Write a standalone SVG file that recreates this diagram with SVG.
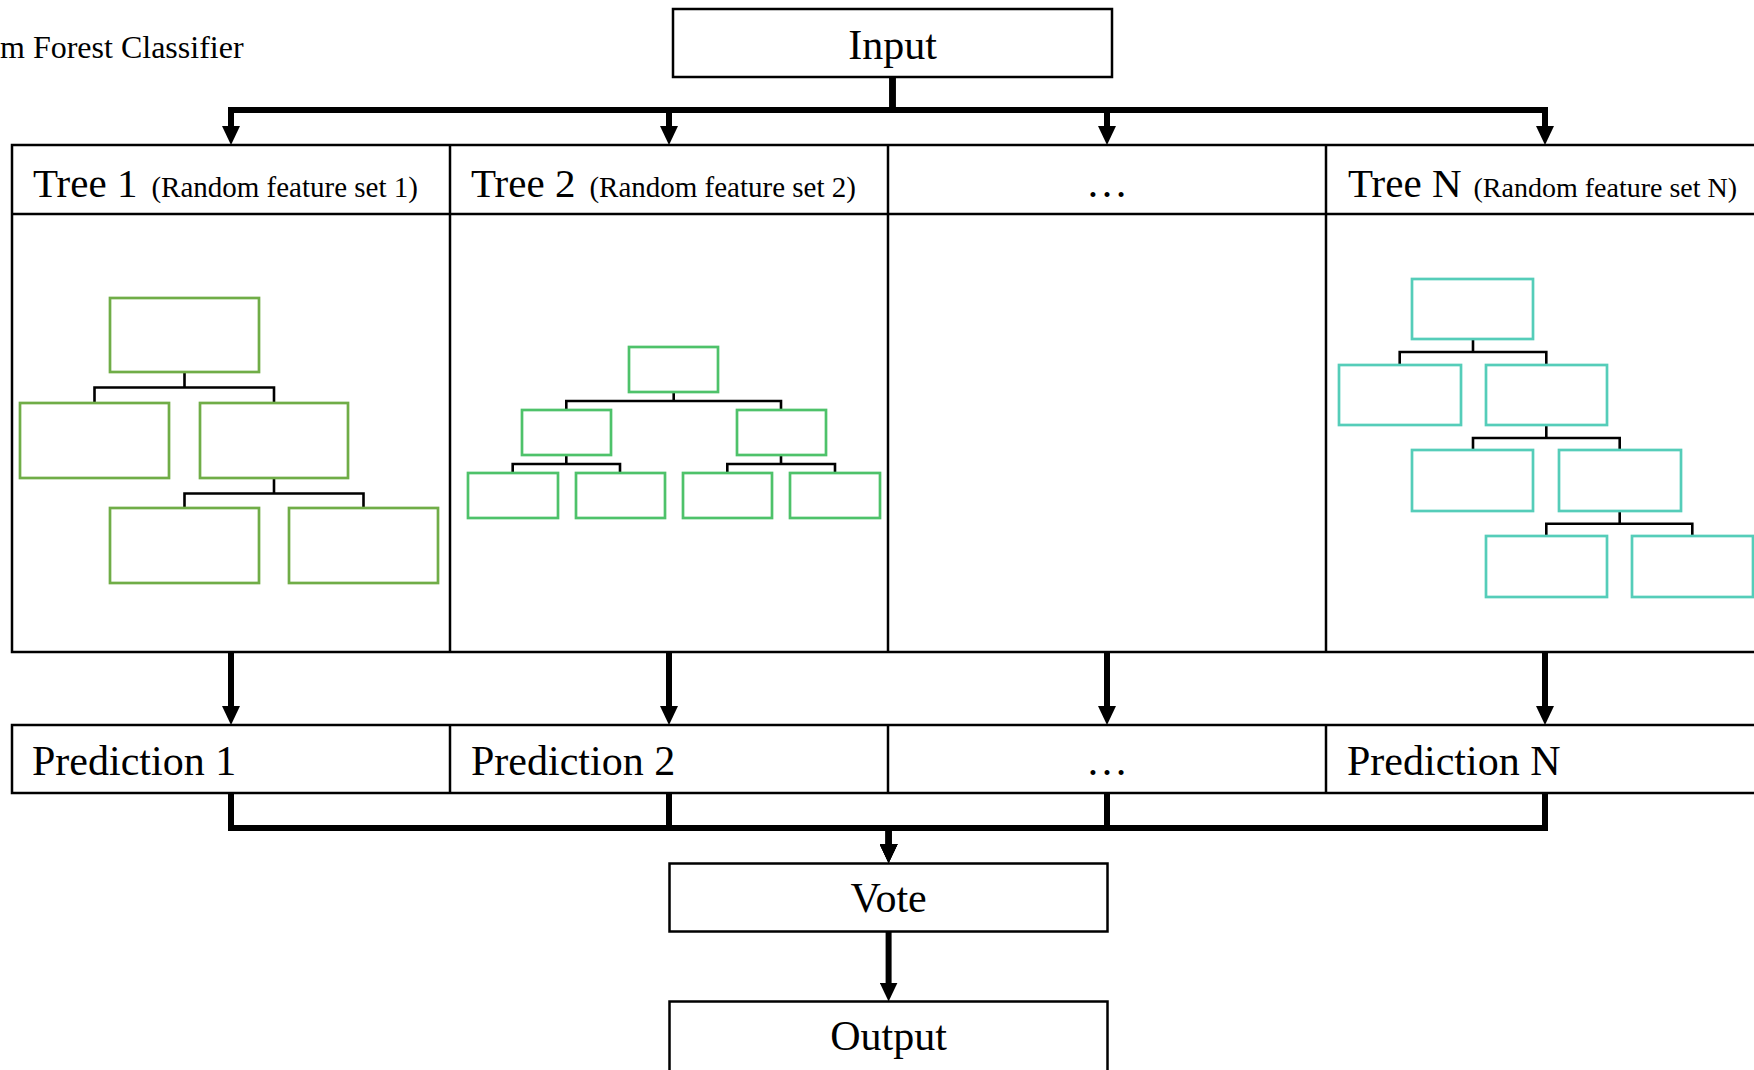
<svg xmlns="http://www.w3.org/2000/svg" width="1754" height="1070" viewBox="0 0 1754 1070">
<style>
  text { font-family: "Liberation Serif", "Times New Roman", serif; fill: #000; }
  .big { font-size: 42px; }
  .small { font-size: 29px; }
  .box { fill: #fff; stroke: #000; stroke-width: 2.5; }
  .grid { fill: none; stroke: #000; stroke-width: 2.5; }
  .g1 { fill: #fff; stroke: #70AD47; stroke-width: 2.7; }
  .g2 { fill: #fff; stroke: #4EC26A; stroke-width: 2.7; }
  .g3 { fill: #fff; stroke: #55CDB9; stroke-width: 2.7; }
  .tl { fill: none; stroke: #000; stroke-width: 2.6; }
  .conn { fill: none; stroke: #000; stroke-width: 6; stroke-linejoin: miter; }
</style>
<defs>
  <marker id="ah" markerUnits="userSpaceOnUse" markerWidth="20" markerHeight="18" viewBox="0 0 20 18" refX="1" refY="9" orient="auto">
    <path d="M0,0 L19,9 L0,18 z" fill="#000"/>
  </marker>
</defs>
<rect width="1754" height="1070" fill="#fff"/>

<text id="title" x="0" y="58" style="font-size:32px">m Forest Classifier</text>

<g id="input">
  <rect class="box" x="673" y="9" width="439" height="68"/>
  <text class="big" x="892.5" y="59" text-anchor="middle">Input</text>
</g>

<g id="trees-table">
  <rect class="grid" x="12" y="145" width="1752" height="507"/>
  <line class="grid" x1="12" y1="214" x2="1764" y2="214"/>
  <line class="grid" x1="450" y1="145" x2="450" y2="652"/>
  <line class="grid" x1="888" y1="145" x2="888" y2="652"/>
  <line class="grid" x1="1326" y1="145" x2="1326" y2="652"/>
</g>

<g id="tree1">
  <text x="33" y="197"><tspan class="big" style="font-size:41px">Tree 1</tspan><tspan class="small" dx="14">(Random feature set 1)</tspan></text>
  <path class="tl" d="M184.5,372 V387.5 M94.5,402 V387.5 H274 V402 M274,478 V493.5 M184.5,508 V493.5 H363.5 V508"/>
  <rect class="g1" x="110" y="298" width="149" height="74"/>
  <rect class="g1" x="20" y="403" width="149" height="75"/>
  <rect class="g1" x="200" y="403" width="148" height="75"/>
  <rect class="g1" x="110" y="508" width="149" height="75"/>
  <rect class="g1" x="289" y="508" width="149" height="75"/>
</g>

<g id="tree2">
  <text x="471" y="197"><tspan class="big" style="font-size:41px">Tree 2</tspan><tspan class="small" dx="14">(Random feature set 2)</tspan></text>
  <path class="tl" d="M673.7,392 V401 M566.3,410 V401 H781 V410 M566.3,455 V464 M512.7,473 V464 H620 V473 M781,455 V464 M727.3,473 V464 H835 V473"/>
  <rect class="g2" x="629" y="347" width="89" height="45"/>
  <rect class="g2" x="522" y="410" width="89" height="45"/>
  <rect class="g2" x="737" y="410" width="89" height="45"/>
  <rect class="g2" x="468" y="473" width="90" height="45"/>
  <rect class="g2" x="576" y="473" width="89" height="45"/>
  <rect class="g2" x="683" y="473" width="89" height="45"/>
  <rect class="g2" x="790" y="473" width="90" height="45"/>
</g>

<g id="tree-dots">
  <text class="big" x="1107" y="197" text-anchor="middle">…</text>
</g>

<g id="treeN">
  <text x="1348" y="197"><tspan class="big" style="font-size:41px">Tree N</tspan><tspan class="small" dx="12" style="font-size:28px">(Random feature set N)</tspan></text>
  <path class="tl" d="M1473,339 V352 M1399.7,365 V352 H1546.3 V365 M1546.3,425 V438 M1473,450 V438 H1619.7 V450 M1619.7,511 V523.7 M1546.3,536 V523.7 H1692.3 V536"/>
  <rect class="g3" x="1412" y="279" width="121" height="60"/>
  <rect class="g3" x="1339" y="365" width="122" height="60"/>
  <rect class="g3" x="1486" y="365" width="121" height="60"/>
  <rect class="g3" x="1412" y="450" width="121" height="61"/>
  <rect class="g3" x="1559" y="450" width="122" height="61"/>
  <rect class="g3" x="1486" y="536" width="121" height="61"/>
  <rect class="g3" x="1632" y="536" width="121" height="61"/>
</g>

<g id="predictions">
  <rect class="grid" x="12" y="725" width="1752" height="68"/>
  <line class="grid" x1="450" y1="725" x2="450" y2="793"/>
  <line class="grid" x1="888" y1="725" x2="888" y2="793"/>
  <line class="grid" x1="1326" y1="725" x2="1326" y2="793"/>
  <text class="big" x="32" y="775">Prediction 1</text>
  <text class="big" x="471" y="775">Prediction 2</text>
  <text class="big" x="1107" y="775" text-anchor="middle">…</text>
  <text class="big" x="1347" y="775">Prediction N</text>
</g>

<g id="vote">
  <rect class="box" x="669.5" y="863.5" width="438" height="68"/>
  <text class="big" x="888.6" y="912" text-anchor="middle">Vote</text>
</g>

<g id="output">
  <rect class="box" x="669.5" y="1001.5" width="438" height="72"/>
  <text class="big" x="888.6" y="1050" text-anchor="middle">Output</text>
</g>

<g id="connectors">
  <path class="conn" d="M892.5,77 V110 H231 V127" marker-end="url(#ah)"/>
  <path class="conn" d="M892.5,77 V110 H669 V127" marker-end="url(#ah)"/>
  <path class="conn" d="M892.5,77 V110 H1107 V127" marker-end="url(#ah)"/>
  <path class="conn" d="M892.5,77 V110 H1545 V127" marker-end="url(#ah)"/>
  <path class="conn" d="M231,652 V707" marker-end="url(#ah)"/>
  <path class="conn" d="M669,652 V707" marker-end="url(#ah)"/>
  <path class="conn" d="M1107,652 V707" marker-end="url(#ah)"/>
  <path class="conn" d="M1545,652 V707" marker-end="url(#ah)"/>
  <path class="conn" d="M231,793 V828 H888.6 V845" marker-end="url(#ah)"/>
  <path class="conn" d="M669,793 V828 H888.6 V845" marker-end="url(#ah)"/>
  <path class="conn" d="M1107,793 V828 H888.6 V845" marker-end="url(#ah)"/>
  <path class="conn" d="M1545,793 V828 H888.6 V845" marker-end="url(#ah)"/>
  <path class="conn" d="M888.6,932 V983.5" marker-end="url(#ah)"/>
</g>
</svg>
